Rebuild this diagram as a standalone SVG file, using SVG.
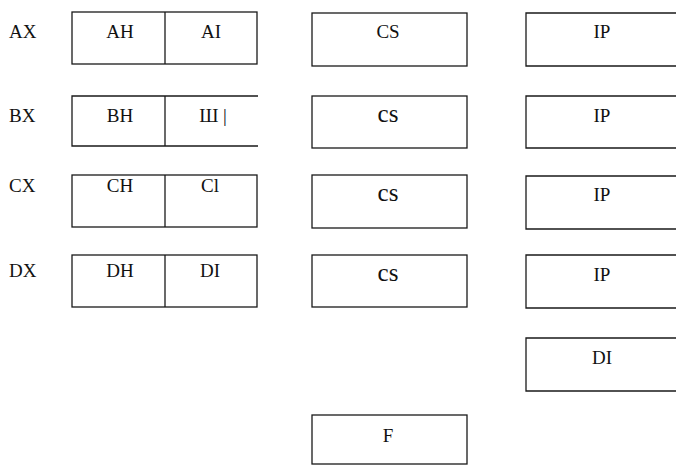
<svg xmlns="http://www.w3.org/2000/svg" width="676" height="466" viewBox="0 0 676 466">
<style>
.b{fill:none;stroke:#1a1a1a;stroke-width:1.3}
.t{font-family:"Liberation Serif","Times New Roman",serif;font-size:19px;fill:#111;text-anchor:middle}
.l{font-family:"Liberation Serif","Times New Roman",serif;font-size:19px;fill:#111}
.s{font-size:25px}
</style>
<rect width="676" height="466" fill="#fff"/>
<g id="AX">
<text class="l" x="9" y="38">AX</text>
<rect class="b" x="72" y="12" width="185" height="52"/>
<line class="b" x1="165" y1="12" x2="165" y2="64"/>
<text class="t" x="120" y="38">AH</text>
<text class="t" x="211" y="38">AI</text>
</g>
<g id="BX">
<text class="l" x="9" y="122">BX</text>
<path class="b" d="M258,96 H72 V146 H258"/>
<line class="b" x1="165" y1="96" x2="165" y2="146"/>
<text class="t" x="120" y="122">BH</text>
<text class="t" x="213" y="122">Ш |</text>
</g>
<g id="CX">
<text class="l" x="9" y="192">CX</text>
<rect class="b" x="72" y="175" width="185" height="52"/>
<line class="b" x1="165" y1="175" x2="165" y2="227"/>
<text class="t" x="120" y="192">CH</text>
<text class="t" x="210" y="192">Cl</text>
</g>
<g id="DX">
<text class="l" x="9" y="277">DX</text>
<rect class="b" x="72" y="255" width="185" height="52"/>
<line class="b" x1="165" y1="255" x2="165" y2="307"/>
<text class="t" x="120" y="277">DH</text>
<text class="t" x="210" y="277">DI</text>
</g>
<g id="CS">
<rect class="b" x="312" y="13" width="155" height="53"/>
<text class="t" x="388" y="38">CS</text>
</g>
<g id="cs2">
<rect class="b" x="312" y="96" width="155" height="52"/>
<text class="t s" x="388" y="122">cs</text>
</g>
<g id="cs3">
<rect class="b" x="312" y="175" width="155" height="53"/>
<text class="t s" x="388" y="201">cs</text>
</g>
<g id="cs4">
<rect class="b" x="312" y="255" width="155" height="52"/>
<text class="t s" x="388" y="281">cs</text>
</g>
<g id="F">
<rect class="b" x="312" y="415" width="155" height="49"/>
<text class="t" x="388" y="442">F</text>
</g>
<g id="IP1">
<path class="b" d="M677,13 H526 V66 H677"/>
<text class="t" x="602" y="38">IP</text>
</g>
<g id="IP2">
<path class="b" d="M677,96 H526 V148 H677"/>
<text class="t" x="602" y="122">IP</text>
</g>
<g id="IP3">
<path class="b" d="M677,176 H526 V229 H677"/>
<text class="t" x="602" y="201">IP</text>
</g>
<g id="IP4">
<path class="b" d="M677,255 H526 V308 H677"/>
<text class="t" x="602" y="281">IP</text>
</g>
<g id="DI">
<path class="b" d="M677,338 H526 V391 H677"/>
<text class="t" x="602" y="364">DI</text>
</g>
</svg>
